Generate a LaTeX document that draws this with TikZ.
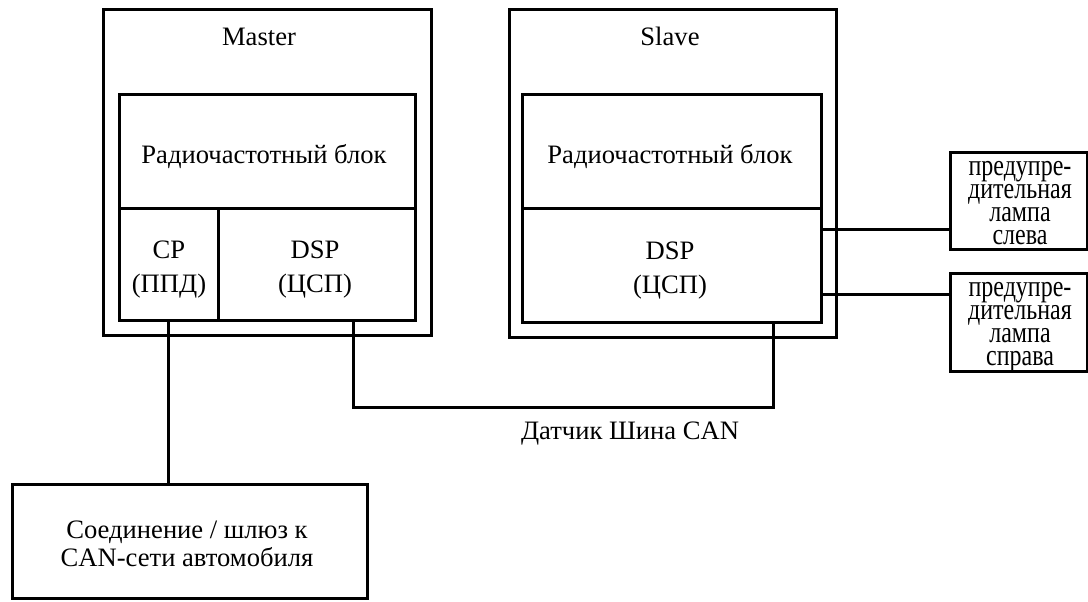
\documentclass[tikz,border=0pt]{standalone}
\usepackage{fontspec}
\setmainfont{Liberation Serif}
\newfontfamily\lampfont[FakeStretch=0.8]{Liberation Serif}
\usetikzlibrary{fit}
\tikzset{
	blk/.style={draw,line width=1.5pt,inner sep=0pt},
	wire/.style={line width=1.5pt},
	txt/.style={anchor=base,inner sep=0pt,align=center},
	lamptxt/.style={txt,font=\lampfont\fontsize{15}{11.5}\selectfont},
}

\begin{document}
\begin{tikzpicture}[x=0.5pt,y=-0.5pt,font=\fontsize{13.3}{17}\selectfont]
\useasboundingbox (0,0) rectangle (1088,601);
		% Master
		\coordinate (MA) at (103,9);
		\coordinate (MB) at (431,335);
		\coordinate (MC) at (119,94);
		\coordinate (MD) at (415,208);
		\coordinate (ME) at (218,320);
		\coordinate (MF) at (119,320);
		\coordinate (MH) at (218,208);
		\node[blk,fit=(MA)(MB)] (master) {};
		\node[blk,fit=(MC)(MD)] (mrf) {};
		\node[blk,fit=(MD)(ME)] (mdsp) {};
		\node[blk,fit=(MF)(MH)] (cp) {};
		\node[txt] (mastertxt) at (259,45) {Master};
		\node[txt] (mrftxt) at (264,163) {Радиочастотный блок};
		\node[txt] (mdsptxt) at (315,292) {DSP\\(ЦСП)};
		\node[txt] (cptxt) at (169,292) {CP\\(ППД)};
		% Slave
		\coordinate (SA) at (509,9);
		\coordinate (SB) at (836,337);
		\coordinate (SC) at (522,94);
		\coordinate (SD) at (821,208);
		\coordinate (SE) at (522,322);
		\node[blk,fit=(SA)(SB)] (slave) {};
		\node[blk,fit=(SC)(SD)] (srf) {};
		\node[blk,fit=(SD)(SE)] (sdsp) {};
		\node[txt] (slavetxt) at (670,45) {Slave};
		\node[txt] (srftxt) at (670,163) {Радиочастотный блок};
		\node[txt] (sdsptxt) at (670,293) {DSP\\(ЦСП)};
		% lamps and gateway
		\coordinate (LA) at (950,152);
		\coordinate (LB) at (1087,249);
		\coordinate (RA) at (950,273);
		\coordinate (RB) at (1087,371);
		\coordinate (GA) at (12,484);
		\coordinate (GB) at (367,598);
		\node[blk,fit=(LA)(LB)] (lampL) {};
		\node[blk,fit=(RA)(RB)] (lampR) {};
		\node[blk,fit=(GA)(GB)] (gw) {};
		\node[lamptxt] (lampLtxt) at (1020,244) {предупре-\\дительная\\лампа\\слева};
		\node[lamptxt] (lampRtxt) at (1020,365) {предупре-\\дительная\\лампа\\справа};
		\node[txt,font=\fontsize{13.3}{14}\selectfont] (gwtxt) at (187,566) {Соединение / шлюз к\\CAN-сети автомобиля};
		% connectors
		\coordinate (busL) at (353,407);
		\coordinate (busR) at (773,407);
		\coordinate (tapL) at (0,229);
		\coordinate (tapR) at (0,294);
		\draw[wire] (cp.south) -- (cp.south |- gw.north);
		\draw[wire] (mdsp.south -| busL) -- (busL) -- (busR) -- (sdsp.south -| busR);
		\draw[wire] (sdsp.east |- tapL) -- (lampL.west |- tapL);
		\draw[wire] (sdsp.east |- tapR) -- (lampR.west |- tapR);
		\node[txt] (bustxt) at (630,439) {Датчик Шина CAN};
\end{tikzpicture}
\end{document}
